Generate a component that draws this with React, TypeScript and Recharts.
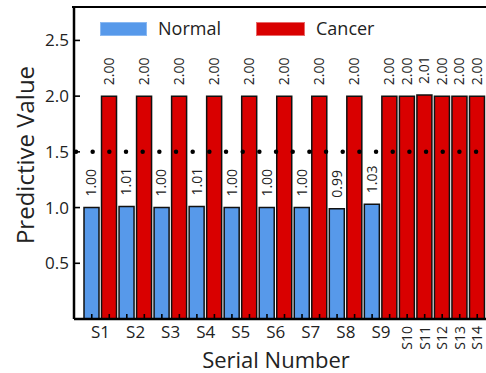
import React from 'react';
import {
  BarChart,
  Bar,
  XAxis,
  YAxis,
  LabelList,
  ReferenceLine,
  Label,
} from 'recharts';

const serials = ['S1', 'S2', 'S3', 'S4', 'S5', 'S6', 'S7', 'S8', 'S9', 'S10', 'S11', 'S12', 'S13', 'S14'];
const normalValues = [1.0, 1.01, 1.0, 1.01, 1.0, 1.0, 1.0, 0.99, 1.03];
const cancerValues = [2.0, 2.0, 2.0, 2.0, 2.0, 2.0, 2.0, 2.0, 2.0, 2.0, 2.01, 2.0, 2.0, 2.0];
const yTicks = [0.5, 1.0, 1.5, 2.0, 2.5];
const yDomain = [0, 2.8];
const threshold = 1.5;

const FONT = '"Open Sans", "Noto Sans", sans-serif';
const BLUE = '#5799ea';
const RED = '#d90000';

type Row = { slot: string; serial: string; paired: boolean; normal?: number; cancer?: number };

// one slot per bar; normal + cancer of the same sample sit next to each other
const rows: Row[] = serials.flatMap((s, i) => {
  const out: Row[] = [];
  const paired = i < normalValues.length;
  if (paired) out.push({ slot: s + '-n', serial: s, paired, normal: normalValues[i] });
  out.push({ slot: s + '-c', serial: s, paired, cancer: cancerValues[i] });
  return out;
});
const rowBySlot: Record<string, Row> = Object.fromEntries(rows.map((r) => [r.slot, r]));

const XTick = ({ x, y, payload }: any) => {
  const row = rowBySlot[payload.value];
  return (
    <g>
      <line x1={x} x2={x} y1={y} y2={y - 5} stroke="#000" strokeWidth={1.6} />
      {row.paired && row.normal != null && (
        <text x={x + 8.8} y={y + 19} textAnchor="middle" fontSize={17} fill="#222" fontFamily={FONT}>
          {row.serial}
        </text>
      )}
      {!row.paired && (
        <text
          transform={`translate(${x},${y + 7}) rotate(-90)`}
          textAnchor="end"
          dy="0.35em"
          fontSize={14}
          fill="#222"
          fontFamily={FONT}
        >
          {row.serial}
        </text>
      )}
    </g>
  );
};

const YTick = ({ x, y, payload }: any) => (
  <g>
    <line x1={x} x2={x + 6} y1={y} y2={y} stroke="#000" strokeWidth={1.6} />
    <text x={x - 5} y={y} dy="0.35em" textAnchor="end" fontSize={17} fill="#222" fontFamily={FONT}>
      {payload.value.toFixed(1)}
    </text>
  </g>
);

const ValueLabel = (props: any) => {
  const { x, y, width, value } = props;
  if (value == null) return null;
  return (
    <text
      transform={`translate(${x + width / 2},${y - 11}) rotate(-90)`}
      textAnchor="start"
      dy="0.35em"
      fontSize={14}
      fill="#222"
      fontFamily={FONT}
    >
      {Number(value).toFixed(2)}
    </text>
  );
};

const LegendBox = () => (
  <div style={{ position: 'absolute', left: 100, top: 22, width: 300, height: 20, fontFamily: FONT, fontSize: 18, color: '#222' }}>
    <div style={{ position: 'absolute', left: 0, top: 0, width: 45, height: 12, background: BLUE, border: '1px solid #8ab9f2' }} />
    <span style={{ position: 'absolute', left: 58, top: -6, lineHeight: '24px' }}>Normal</span>
    <div style={{ position: 'absolute', left: 156, top: 0, width: 47, height: 12, background: RED, border: '1px solid #e86a6a' }} />
    <span style={{ position: 'absolute', left: 216, top: -6, lineHeight: '24px' }}>Cancer</span>
  </div>
);

export default function App() {
  return (
    <div style={{ position: 'fixed', left: 0, top: 0, width: 486, height: 373, background: '#fff' }}>
      <BarChart
        width={486}
        height={373}
        data={rows}
        margin={{ top: 7, right: 0, left: 0, bottom: 0 }}
        barCategoryGap={0}
        barSize={15}
      >
        <XAxis
          dataKey="slot"
          height={54}
          interval={0}
          padding={{ left: 9, right: 0 }}
          axisLine={{ stroke: '#000', strokeWidth: 2.5 }}
          tickLine={false}
          tickSize={0}
          tickMargin={0}
          tick={<XTick />}
        >
          <Label
            content={() => (
              <text x={276} y={368} textAnchor="middle" fontSize={22} fill="#222" fontFamily={FONT}>
                Serial Number
              </text>
            )}
          />
        </XAxis>
        <YAxis
          width={74}
          domain={yDomain}
          ticks={yTicks}
          axisLine={{ stroke: '#000', strokeWidth: 2.5 }}
          tickLine={false}
          tickSize={0}
          tickMargin={0}
          tick={<YTick />}
        >
          <Label
            content={() => (
              <text
                transform="translate(26,155) rotate(-90)"
                textAnchor="middle"
                dy="0.35em"
                fontSize={24}
                fill="#222"
                fontFamily={FONT}
              >
                Predictive Value
              </text>
            )}
          />
        </YAxis>
        <Bar dataKey="normal" name="Normal" stackId="s" fill={BLUE} stroke="#111" strokeWidth={1.5} isAnimationActive={false}>
          <LabelList dataKey="normal" content={<ValueLabel />} />
        </Bar>
        <Bar dataKey="cancer" name="Cancer" stackId="s" fill={RED} stroke="#111" strokeWidth={1.5} isAnimationActive={false}>
          <LabelList dataKey="cancer" content={<ValueLabel />} />
        </Bar>
        <ReferenceLine
          y={threshold}
          stroke="#000"
          strokeWidth={4.5}
          strokeLinecap="round"
          strokeDasharray="0 16.67"
          strokeDashoffset={14.67}
        />
      </BarChart>
      {/* top frame of the plot box */}
      <div style={{ position: 'absolute', left: 72, top: 5.5, width: 414, height: 2.5, background: '#000', zIndex: 5 }} />
      <LegendBox />
    </div>
  );
}
